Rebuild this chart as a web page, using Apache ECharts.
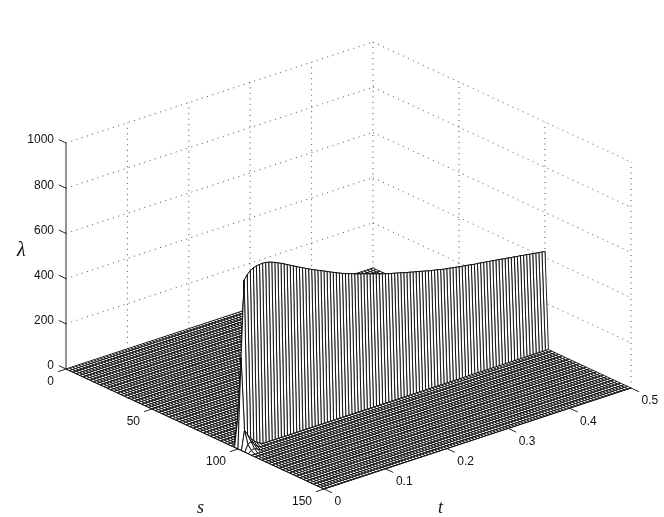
<!DOCTYPE html>
<html><head><meta charset="utf-8">
<style>html,body{margin:0;padding:0;background:#fff}#c{width:664px;height:517px}</style>
<script src="https://cdn.jsdelivr.net/npm/echarts@6/dist/echarts.min.js"></script>
</head><body><div id="c"></div>
<script>
// ---- data ----
const sTicks = [0, 50, 100, 150];
const tTicks = [0, 0.1, 0.2, 0.3, 0.4, 0.5];
const zTicks = [0, 200, 400, 600, 800, 1000];
const sStep = 2, sMax = 150;   // mesh rows
const tStep = 0.005, tCount = 101; // mesh columns
// lambda at s = 100 (the crest), one value per t column
const crestS100 = [0,400,738,757,771,779,783,785,786,785,782,777,772,765,759,752,744,737,730,722,715,708,701,694,687,681,674,669,662,656,649,643,637,631,625,620,615,610,605,600,596,592,587,583,578,574,569,565,561,557,553,550,546,543,539,535,532,528,525,522,518,515,511,508,505,503,499,496,494,492,489,487,484,482,480,478,476,473,472,470,468,466,464,462,460,458,456,453,452,449,448,445,444,441,440,437,435,433,431,429,427];
// other rows with non-zero lambda, first columns only (the rest is zero)
const rowS98 = [0,120,300,380,420];
const rowS102 = [0,85,60,42,26,14,6];
const rowS104 = [0,30,38,22,9];
const rowS106 = [0,10,14,7];
const lambdaRows = {98: rowS98, 100: crestS100, 102: rowS102, 104: rowS104, 106: rowS106};
// ---- view of the box ----
const origin = [66, 369], perS = [258/150, 120/150], perT = [614, -202], perZ = -226/1000;
const project = (s,t,z) => [origin[0]+perS[0]*s+perT[0]*t, origin[1]+perS[1]*s+perT[1]*t+perZ*z];
const lam = (i,j) => { const r = lambdaRows[i*sStep]; return r && r[j] ? r[j] : 0; };
const nS = sMax/sStep + 1;

// mesh cells, far to near
const cells = [];
for (let i=0;i<nS-1;i++) for (let j=tCount-2;j>=0;j--) cells.push([i,j]);

// dotted grid
const gridSegs = [];
for (const z of zTicks) { if (z===0) continue;
  gridSegs.push([0,0,z,0,0.5,z]); gridSegs.push([0,0.5,z,150,0.5,z]); }
for (const t of tTicks) { if (t===0) continue; gridSegs.push([0,t,0,0,t,1000]); }
for (const s of sTicks) { if (s===0) continue; gridSegs.push([s,0.5,0,s,0.5,1000]); }

// axis lines and ticks
const tickLen = 8/258*150;
const axisSegs = [[0,0,0,0,0,1000],[0,0,0,150,0,0],[150,0,0,150,0.5,0]];
for (const z of zTicks) axisSegs.push([0,0,z,-tickLen*0.9,0,z]);
for (const s of sTicks) axisSegs.push([s,0,0,s,-8/614,0]);
for (const t of tTicks) axisSegs.push([150,t,0,150+tickLen,t,0]);

// labels: text, s,t,z, dx,dy, align
const labels = [];
for (const z of zTicks) labels.push([String(z),0,0,z,-12,-3,'right']);
for (const s of sTicks) labels.push([String(s),s,0,0,-12,12.5,'right']);
for (const t of tTicks) labels.push([String(t),150,t,0,10.5,13,'left']);

const P = (api,s,t,z) => api.coord(project(s,t,z));
const option = {
  animation:false, backgroundColor:'#fff',
  grid:{left:0,right:0,top:0,bottom:0,containLabel:false},
  xAxis:{type:'value',min:0,max:664,show:false},
  yAxis:{type:'value',min:0,max:517,inverse:true,show:false},
  tooltip:{show:false},
  series:[
    {type:'custom',silent:true,clip:false,progressive:0,z:1,data:gridSegs,
     renderItem:(p,api)=>{const d=gridSegs[p.dataIndex];const a=P(api,d[0],d[1],d[2]),b=P(api,d[3],d[4],d[5]);
       return {type:'line',shape:{x1:a[0],y1:a[1],x2:b[0],y2:b[1]},style:{stroke:'#222',lineWidth:0.8,lineDash:[1,4.5],fill:null}};}},
    {type:'custom',silent:true,clip:false,progressive:0,z:2,data:cells,
     renderItem:(p,api)=>{const c=cells[p.dataIndex],i=c[0],j=c[1];
       const s0=i*sStep,s1=(i+1)*sStep,t0=j*tStep,t1=(j+1)*tStep;
       return {type:'polygon',shape:{points:[P(api,s0,t0,lam(i,j)),P(api,s1,t0,lam(i+1,j)),P(api,s1,t1,lam(i+1,j+1)),P(api,s0,t1,lam(i,j+1))]},
         style:{fill:'#fff',stroke:'#000',lineWidth:0.85}};}},
    {type:'custom',silent:true,clip:false,progressive:0,z:3,data:axisSegs,
     renderItem:(p,api)=>{const d=axisSegs[p.dataIndex];const a=P(api,d[0],d[1],d[2]),b=P(api,d[3],d[4],d[5]);
       return {type:'line',shape:{x1:a[0],y1:a[1],x2:b[0],y2:b[1]},style:{stroke:'#111',lineWidth:0.9,fill:null}};}},
    {type:'custom',silent:true,clip:false,progressive:0,z:4,data:labels,
     renderItem:(p,api)=>{const d=labels[p.dataIndex];const a=P(api,d[1],d[2],d[3]);
       return {type:'text',style:{x:a[0]+d[4],y:a[1]+d[5],text:d[0],textAlign:d[6],textVerticalAlign:'middle',fill:'#111',font:'12px "Liberation Sans", Arial, sans-serif'}};}}
  ],
  graphic:[
    {type:'text',left:17,top:241,z:10,style:{text:'λ',fill:'#111',font:'italic 20px "Liberation Serif", "DejaVu Serif", serif'}},
    {type:'text',left:197,top:499,z:10,style:{text:'s',fill:'#111',font:'italic 18px "Liberation Serif", "DejaVu Serif", serif'}},
    {type:'text',left:438,top:499,z:10,style:{text:'t',fill:'#111',font:'italic 18px "Liberation Serif", "DejaVu Serif", serif'}}
  ]
};
echarts.init(document.getElementById('c'),null,{renderer:'canvas'}).setOption(option);
</script></body></html>
